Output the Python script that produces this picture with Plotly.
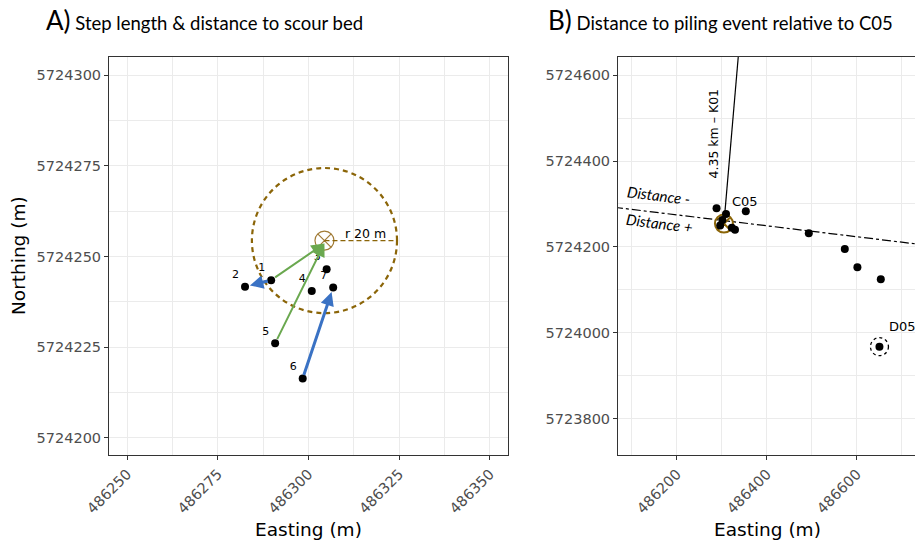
import plotly.graph_objects as go

# ---------------- data ----------------
# Panel A: positions (m)
pt_labels = ["1", "2", "3", "4", "5", "6", "7"]
pt_x = [486289.7, 486282.5, 486305.0, 486300.9, 486290.8, 486298.4, 486306.8]
pt_y = [5724243.5, 5724241.7, 5724246.5, 5724240.5, 5724226.1, 5724216.4, 5724241.5]

scour_x = 486304.4
scour_y = 5724254.4
scour_r = 20

# step arrows
green_from = [0, 4]                # to scour bed centre
blue_from = [0, 5]
blue_to = [1, 6]

# Panel B
b_x = [486288, 486309, 486353, 486301, 486322, 486329, 486296, 486493, 486573, 486601, 486653, 486650]
b_y = [5724290, 5724277, 5724283, 5724263, 5724245, 5724240, 5724250, 5724232, 5724195, 5724153, 5724125, 5723968]
d05_x = 486650
d05_y = 5723968
k01_x = [486304.4, 486660.0]
k01_y = [5724254.4, 5728589.9]
dist_line_x = [486060, 486740]
dist_line_y = [5724292.4, 5724206.0]

a_xticks = [486250, 486275, 486300, 486325, 486350]
a_yticks = [5724200, 5724225, 5724250, 5724275, 5724300]
b_xticks = [486200, 486400, 486600]
b_yticks = [5723800, 5724000, 5724200, 5724400, 5724600]

# ---------------- styling ----------------
BROWN = "#8B6508"
GREEN = "#6AA84F"
BLUE = "#3A72C4"
GRID = "#EBEBEB"
SANS = "DejaVu Sans, Arial"
TICKF = dict(family=SANS, size=14.5, color="#4D4D4D")
TFONT = "Lato, Calibri, sans-serif"

fig = go.Figure()

# Panel A points
fig.add_trace(go.Scatter(
    x=pt_x, y=pt_y, mode="markers+text", text=pt_labels, textposition="top left",
    textfont=dict(family=SANS, size=11, color="#000"),
    marker=dict(color="black", size=8), xaxis="x", yaxis="y", showlegend=False,
    cliponaxis=False))
fig.add_trace(go.Scatter(
    x=[scour_x], y=[scour_y], mode="markers",
    marker=dict(symbol="circle-x-open", size=19, color="#A07A35", line=dict(width=1.2, color="#A07A35")),
    xaxis="x", yaxis="y", showlegend=False))

# Panel B
fig.add_trace(go.Scatter(x=k01_x, y=k01_y, mode="lines", line=dict(color="black", width=1.2),
                         xaxis="x2", yaxis="y2", showlegend=False))
fig.add_trace(go.Scatter(x=dist_line_x, y=dist_line_y, mode="lines",
                         line=dict(color="black", width=1.2, dash="dashdot"),
                         xaxis="x2", yaxis="y2", showlegend=False))
fig.add_trace(go.Scatter(x=[scour_x], y=[scour_y], mode="markers",
                         marker=dict(symbol="circle-x-open", size=18, color=BROWN, line=dict(width=2, color=BROWN)),
                         xaxis="x2", yaxis="y2", showlegend=False))
fig.add_trace(go.Scatter(x=b_x, y=b_y, mode="markers", marker=dict(color="black", size=8),
                         xaxis="x2", yaxis="y2", showlegend=False))

shapes = [
    dict(type="circle", xref="x", yref="y", x0=scour_x - scour_r, x1=scour_x + scour_r,
         y0=scour_y - scour_r, y1=scour_y + scour_r, line=dict(color=BROWN, width=2.2, dash="5px,4px")),
    dict(type="line", xref="x", yref="y", x0=scour_x, x1=scour_x + scour_r, y0=scour_y, y1=scour_y,
         line=dict(color=BROWN, width=1.3, dash="5px,3px")),
    dict(type="circle", xref="x2", yref="y2", xsizemode="pixel", ysizemode="pixel",
         xanchor=d05_x, yanchor=d05_y, x0=-9, x1=9, y0=-9, y1=9,
         line=dict(color="black", width=1.3, dash="dot")),
]

ann = []
for i in green_from:
    ann.append(dict(x=scour_x, y=scour_y - 0.8, ax=pt_x[i], ay=pt_y[i], xref="x", yref="y",
                    axref="x", ayref="y", showarrow=True, arrowhead=2, arrowsize=1.3,
                    arrowwidth=2, arrowcolor=GREEN, standoff=0, startstandoff=3, text=""))
for f, t in zip(blue_from, blue_to):
    ann.append(dict(x=pt_x[t], y=pt_y[t], ax=pt_x[f], ay=pt_y[f], xref="x", yref="y",
                    axref="x", ayref="y", showarrow=True, arrowhead=2, arrowsize=0.9,
                    arrowwidth=3, arrowcolor=BLUE, standoff=5, startstandoff=2, text=""))
ann.append(dict(x=scour_x + 5, y=scour_y + 2, xref="x", yref="y", text="r 20 m", showarrow=False,
                xanchor="left", yanchor="middle", font=dict(family=SANS, size=12.5, color="black")))
# panel B texts
ann += [
    dict(x=486351, y=5724305, xref="x2", yref="y2", text="C05", showarrow=False,
         font=dict(family=SANS, size=13, color="black")),
    dict(x=486667, y=5724016, xref="x2", yref="y2", text="D05", showarrow=False, xanchor="left",
         font=dict(family=SANS, size=13, color="black")),
    dict(x=486281, y=5724465, xref="x2", yref="y2", text="4.35 km \u2013 K01", showarrow=False, textangle=-90,
         font=dict(family=SANS, size=12.5, color="black")),
    dict(x=486158, y=5724321, xref="x2", yref="y2", text="<i>Distance -</i>", showarrow=False, textangle=7,
         font=dict(family=TFONT, size=15, color="black")),
    dict(x=486162, y=5724256, xref="x2", yref="y2", text="<i>Distance +</i>", showarrow=False, textangle=7,
         font=dict(family=TFONT, size=15, color="black")),
]
# titles (pixel positions converted to paper)
ann += [
    dict(x=44, y=20, xref="paper", yref="paper", text="<span style='font-size:26px'>A)</span> Step length &amp; distance to scour bed",
         showarrow=False, xanchor="left", yanchor="middle", font=dict(family=TFONT, size=18.5, color="black")),
    dict(x=546, y=20, xref="paper", yref="paper", text="<span style='font-size:26px'>B)</span> Distance to piling event relative to C05",
         showarrow=False, xanchor="left", yanchor="middle", font=dict(family=TFONT, size=18.5, color="black")),
    dict(x=308, y=529, xref="paper", yref="paper", text="Easting (m)", showarrow=False,
         xanchor="center", yanchor="middle", font=dict(family=SANS, size=18.5, color="black")),
    dict(x=767, y=529, xref="paper", yref="paper", text="Easting (m)", showarrow=False,
         xanchor="center", yanchor="middle", font=dict(family=SANS, size=18.5, color="black")),
    dict(x=18, y=256, xref="paper", yref="paper", text="Northing (m)", showarrow=False, textangle=-90,
         xanchor="center", yanchor="middle", font=dict(family=SANS, size=18.5, color="black")),
]
W, H = 915, 545
for a in ann:
    if a.get("xref") == "paper":
        a["x"] = a["x"] / W
        a["y"] = 1 - a["y"] / H

axis_common = dict(showline=True, linecolor="#333333", linewidth=1, mirror=True, ticks="outside",
                   ticklen=4, tickcolor="#333333", tickwidth=1, showgrid=True, gridcolor=GRID,
                   gridwidth=1.1, zeroline=False, tickfont=TICKF, automargin=False)

fig.update_layout(
    width=W, height=H, margin=dict(l=0, r=0, t=0, b=0),
    paper_bgcolor="white", plot_bgcolor="white", showlegend=False,
    xaxis=dict(domain=[109 / W, 508 / W], range=[486245.0, 486355.0], tickvals=a_xticks,
               ticktext=[str(v) for v in a_xticks], tickangle=-45, anchor="y",
               minor=dict(showgrid=True, gridcolor=GRID, gridwidth=0.6, dtick=12.5, tick0=486237.5, ticks=""),
               **axis_common),
    yaxis=dict(domain=[1 - 455 / H, 1 - 57 / H], range=[5724195.3, 5724305.0], tickvals=a_yticks,
               ticktext=[str(v) for v in a_yticks], anchor="x",
               minor=dict(showgrid=True, gridcolor=GRID, gridwidth=0.6, dtick=12.5, tick0=5724187.5, ticks=""),
               **axis_common),
    xaxis2=dict(domain=[618 / W, 1.0], range=[486069, 486729], tickvals=b_xticks,
                ticktext=[str(v) for v in b_xticks], tickangle=-45, anchor="y2",
                minor=dict(showgrid=True, gridcolor=GRID, gridwidth=0.6, dtick=100, tick0=486000, ticks=""),
                **axis_common),
    yaxis2=dict(domain=[1 - 455 / H, 1 - 57 / H], range=[5723716, 5724642], tickvals=b_yticks,
                ticktext=[str(v) for v in b_yticks], anchor="x2",
                minor=dict(showgrid=True, gridcolor=GRID, gridwidth=0.6, dtick=100, tick0=5723700, ticks=""),
                **axis_common),
    shapes=shapes, annotations=ann,
)

fig.write_html("out.html", config={"displayModeBar": False},
               post_script="document.body.style.margin='0';document.body.style.overflow='hidden';")
